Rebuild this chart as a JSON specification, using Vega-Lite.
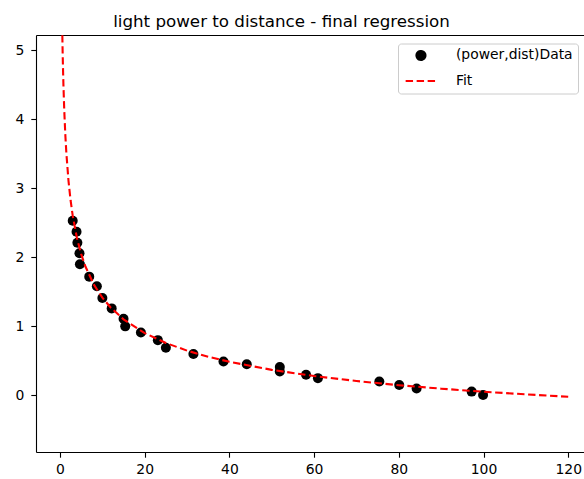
{
  "$schema": "https://vega.github.io/schema/vega-lite/v6.json",
  "width": 548,
  "height": 417,
  "autosize": {"type": "none"},
  "padding": {"left": 36, "top": 35, "right": 0, "bottom": 27},
  "background": "white",
  "config": {
    "view": {"stroke": null},
    "font": "DejaVu Sans",
    "axis": {
      "grid": false,
      "title": null,
      "domainColor": "black",
      "domainWidth": 1.1,
      "tickColor": "black",
      "tickWidth": 1.1,
      "tickSize": 5.2,
      "labelColor": "black",
      "labelFont": "DejaVu Sans",
      "labelFontSize": 13.9,
      "labelPadding": 5,
      "labelFlush": false,
      "labelOverlap": false
    }
  },
  "title": {
    "text": "light power to distance - final regression",
    "font": "DejaVu Sans",
    "fontSize": 16.7,
    "fontWeight": "normal",
    "color": "black",
    "anchor": "middle",
    "frame": "group",
    "dx": -28.5,
    "offset": -8.7,
    "baseline": "alphabetic"
  },
  "datasets": {
    "pts": [
      {"power": 3.0, "dist": 2.53, "series": "(power,dist)Data"},
      {"power": 3.9, "dist": 2.37, "series": "(power,dist)Data"},
      {"power": 4.1, "dist": 2.21, "series": "(power,dist)Data"},
      {"power": 4.6, "dist": 2.06, "series": "(power,dist)Data"},
      {"power": 4.7, "dist": 1.9, "series": "(power,dist)Data"},
      {"power": 6.9, "dist": 1.72, "series": "(power,dist)Data"},
      {"power": 8.7, "dist": 1.58, "series": "(power,dist)Data"},
      {"power": 10.0, "dist": 1.41, "series": "(power,dist)Data"},
      {"power": 12.2, "dist": 1.26, "series": "(power,dist)Data"},
      {"power": 15.0, "dist": 1.11, "series": "(power,dist)Data"},
      {"power": 15.4, "dist": 1.0, "series": "(power,dist)Data"},
      {"power": 19.1, "dist": 0.91, "series": "(power,dist)Data"},
      {"power": 23.1, "dist": 0.8, "series": "(power,dist)Data"},
      {"power": 25.0, "dist": 0.69, "series": "(power,dist)Data"},
      {"power": 31.5, "dist": 0.6, "series": "(power,dist)Data"},
      {"power": 38.6, "dist": 0.49, "series": "(power,dist)Data"},
      {"power": 44.1, "dist": 0.45, "series": "(power,dist)Data"},
      {"power": 51.9, "dist": 0.41, "series": "(power,dist)Data"},
      {"power": 51.9, "dist": 0.345, "series": "(power,dist)Data"},
      {"power": 58.1, "dist": 0.3, "series": "(power,dist)Data"},
      {"power": 60.9, "dist": 0.25, "series": "(power,dist)Data"},
      {"power": 75.4, "dist": 0.2, "series": "(power,dist)Data"},
      {"power": 80.1, "dist": 0.15, "series": "(power,dist)Data"},
      {"power": 84.2, "dist": 0.1, "series": "(power,dist)Data"},
      {"power": 97.2, "dist": 0.055, "series": "(power,dist)Data"},
      {"power": 99.9, "dist": 0.005, "series": "(power,dist)Data"}
    ],
    "fit": [
      {"power": 0.4, "dist": 5.855, "series": "Fit"},
      {"power": 0.5, "dist": 5.391, "series": "Fit"},
      {"power": 0.6, "dist": 5.034, "series": "Fit"},
      {"power": 0.7, "dist": 4.747, "series": "Fit"},
      {"power": 0.8, "dist": 4.509, "series": "Fit"},
      {"power": 1.0, "dist": 4.132, "series": "Fit"},
      {"power": 1.25, "dist": 3.779, "series": "Fit"},
      {"power": 1.5, "dist": 3.508, "series": "Fit"},
      {"power": 2.0, "dist": 3.109, "series": "Fit"},
      {"power": 2.5, "dist": 2.823, "series": "Fit"},
      {"power": 3.0, "dist": 2.603, "series": "Fit"},
      {"power": 4.0, "dist": 2.279, "series": "Fit"},
      {"power": 5.0, "dist": 2.046, "series": "Fit"},
      {"power": 6.0, "dist": 1.867, "series": "Fit"},
      {"power": 8.0, "dist": 1.604, "series": "Fit"},
      {"power": 10.0, "dist": 1.415, "series": "Fit"},
      {"power": 12.0, "dist": 1.27, "series": "Fit"},
      {"power": 15.0, "dist": 1.102, "series": "Fit"},
      {"power": 20.0, "dist": 0.902, "series": "Fit"},
      {"power": 25.0, "dist": 0.759, "series": "Fit"},
      {"power": 30.0, "dist": 0.648, "series": "Fit"},
      {"power": 35.0, "dist": 0.56, "series": "Fit"},
      {"power": 40.0, "dist": 0.486, "series": "Fit"},
      {"power": 50.0, "dist": 0.37, "series": "Fit"},
      {"power": 60.0, "dist": 0.28, "series": "Fit"},
      {"power": 70.0, "dist": 0.208, "series": "Fit"},
      {"power": 80.0, "dist": 0.148, "series": "Fit"},
      {"power": 90.0, "dist": 0.097, "series": "Fit"},
      {"power": 100.0, "dist": 0.053, "series": "Fit"},
      {"power": 110.0, "dist": 0.015, "series": "Fit"},
      {"power": 120.0, "dist": -0.02, "series": "Fit"}
    ]
  },
  "resolve": {"axis": {"x": "independent"}},
  "layer": [
    {
      "data": {"name": "pts"},
      "mark": {"type": "point", "filled": true, "size": 100, "opacity": 1},
      "encoding": {
        "x": {
          "field": "power", "type": "quantitative",
          "scale": {"domain": [-5.67, 123.73], "nice": false, "zero": false},
          "axis": {"orient": "bottom", "values": [0, 20, 40, 60, 80, 100, 120], "format": "d"}
        },
        "y": {
          "field": "dist", "type": "quantitative",
          "scale": {"domain": [-0.82, 5.22], "nice": false, "zero": false},
          "axis": {"values": [0, 1, 2, 3, 4, 5], "format": "d", "labelPadding": 7}
        },
        "color": {
          "field": "series", "type": "nominal",
          "scale": {"domain": ["(power,dist)Data", "Fit"], "range": ["black", "red"]},
          "legend": {
            "orient": "none",
            "legendX": 362,
            "legendY": 8.5,
            "title": null,
            "padding": 5,
            "symbolSize": 81,
            "symbolOffset": 11,
            "labelOffset": 28,
            "labelFont": "DejaVu Sans",
            "labelFontSize": 13.9,
            "labelColor": "black",
            "labelLimit": 400,
            "rowPadding": 8.6,
            "strokeColor": "#cccccc",
            "fillColor": "rgba(255,255,255,0.8)",
            "cornerRadius": 3,
            "encode": {
              "symbols": {
                "enter": {
                  "shape": {"signal": "datum.value === 'Fit' ? 'M-3.4,0H3.4' : 'circle'"},
                  "strokeDash": {"signal": "datum.value === 'Fit' ? [7.4, 3.6] : [1, 0]"}
                },
                "update": {
                  "shape": {"signal": "datum.value === 'Fit' ? 'M-3.4,0H3.4' : 'circle'"},
                  "fill": {"signal": "datum.value === 'Fit' ? 'transparent' : 'black'"},
                  "stroke": {"signal": "datum.value === 'Fit' ? 'red' : 'transparent'"},
                  "strokeDash": {"signal": "datum.value === 'Fit' ? [7.4, 3.6] : [1, 0]"},
                  "strokeWidth": {"value": 2.1},
                  "size": {"value": 81},
                  "opacity": {"value": 1}
                }
              }
            }
          }
        }
      }
    },
    {
      "data": {"name": "fit"},
      "mark": {"type": "line", "clip": true, "strokeDash": [7.4, 3.6], "strokeWidth": 2.1},
      "encoding": {
        "x": {
          "field": "power", "type": "quantitative",
          "scale": {"domain": [-5.67, 123.73], "nice": false, "zero": false},
          "axis": {"orient": "top", "labels": false, "ticks": false, "domain": true, "minExtent": 0, "maxExtent": 0}
        },
        "y": {"field": "dist", "type": "quantitative"},
        "color": {
          "field": "series", "type": "nominal",
          "legend": {
            "orient": "none",
            "legendX": 362,
            "legendY": 8.5,
            "title": null,
            "padding": 5,
            "symbolSize": 81,
            "symbolOffset": 11,
            "labelOffset": 28,
            "labelFont": "DejaVu Sans",
            "labelFontSize": 13.9,
            "labelColor": "black",
            "labelLimit": 400,
            "rowPadding": 8.6,
            "strokeColor": "#cccccc",
            "fillColor": "rgba(255,255,255,0.8)",
            "cornerRadius": 3,
            "encode": {
              "symbols": {
                "enter": {
                  "shape": {"signal": "datum.value === 'Fit' ? 'M-3.4,0H3.4' : 'circle'"},
                  "strokeDash": {"signal": "datum.value === 'Fit' ? [7.4, 3.6] : [1, 0]"}
                },
                "update": {
                  "shape": {"signal": "datum.value === 'Fit' ? 'M-3.4,0H3.4' : 'circle'"},
                  "fill": {"signal": "datum.value === 'Fit' ? 'transparent' : 'black'"},
                  "stroke": {"signal": "datum.value === 'Fit' ? 'red' : 'transparent'"},
                  "strokeDash": {"signal": "datum.value === 'Fit' ? [7.4, 3.6] : [1, 0]"},
                  "strokeWidth": {"value": 2.1},
                  "size": {"value": 81},
                  "opacity": {"value": 1}
                }
              }
            }
          }
        }
      }
    }
  ]
}
